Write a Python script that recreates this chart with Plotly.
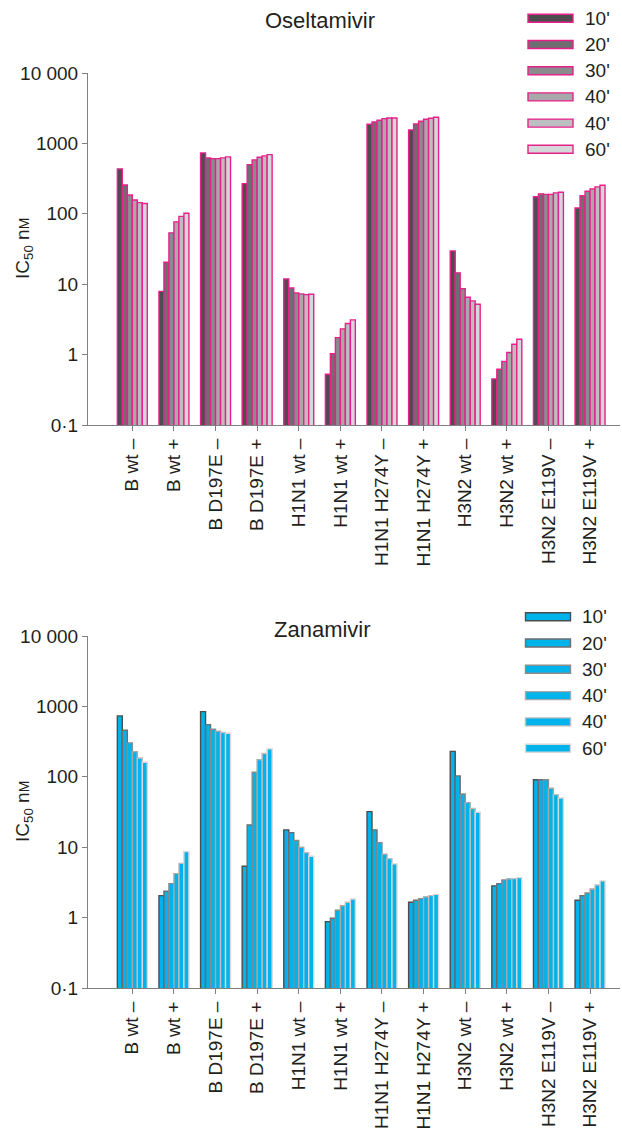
import plotly.graph_objects as go

categories = ["B wt –", "B wt +", "B D197E –", "B D197E +", "H1N1 wt –", "H1N1 wt +",
              "H1N1 H274Y –", "H1N1 H274Y +", "H3N2 wt –", "H3N2 wt +", "H3N2 E119V –", "H3N2 E119V +"]
times = ["10'", "20'", "30'", "40'", "40'", "60'"]

# Oseltamivir IC50 (nM), one list per time point, across categories
osel_10 = [434, 7.9, 733, 268, 11.9, 0.525, 1867, 1555, 29.7, 0.452, 175, 121]
osel_20 = [257, 20.5, 622, 500, 8.85, 1.03, 2020, 1893, 14.5, 0.618, 192, 181]
osel_30 = [185, 53.6, 608, 583, 7.52, 1.74, 2130, 2060, 8.66, 0.80, 189, 209]
osel_40a = [157, 76.8, 608, 635, 7.28, 2.32, 2250, 2200, 6.52, 1.07, 189, 226]
osel_40b = [144, 92, 622, 664, 7.11, 2.76, 2300, 2273, 5.79, 1.40, 198, 241]
osel_60 = [140, 102, 643, 693, 7.2, 3.11, 2300, 2350, 5.19, 1.65, 202, 254]

# Zanamivir IC50 (nM)
zan_10 = [733, 2.05, 844, 5.36, 17.6, 0.877, 32, 1.65, 230, 2.82, 91, 1.76]
zan_20 = [458, 2.37, 551, 20.7, 16.1, 0.977, 17.6, 1.76, 103, 3.04, 91, 2.05]
zan_30 = [303, 3.04, 473, 116, 12.5, 1.27, 11.6, 1.86, 57, 3.43, 91, 2.24]
zan_40a = [228, 4.22, 443, 175, 9.98, 1.47, 7.93, 1.97, 43, 3.55, 68.7, 2.55]
zan_40b = [185, 5.9, 425, 214, 8.38, 1.65, 6.89, 2.05, 35.4, 3.58, 55.9, 2.91]
zan_60 = [161, 8.66, 415, 249, 7.43, 1.84, 5.79, 2.14, 31.3, 3.70, 50, 3.32]

tick_vals = [0.1, 1, 10, 100, 1000, 10000]
tick_text = ["0·1", "1", "10", "100", "1000", "10 000"]

osel_series = [osel_10, osel_20, osel_30, osel_40a, osel_40b, osel_60]
zan_series = [zan_10, zan_20, zan_30, zan_40a, zan_40b, zan_60]

grays = ["#4d4d4f", "#6d6e70", "#8a8b8d", "#a7a9ab", "#bcbec0", "#d6d7d8"]
magenta = "#e8208c"
cyan = "#00b4eb"
txt = "#231f20"
axis_col = "#808080"
FONT = "Liberation Sans, Arial, sans-serif"

W, H = 622, 1133

fig = go.Figure()
for i, t in enumerate(times):
    fig.add_trace(go.Bar(x=categories, y=osel_series[i], name=t, xaxis="x", yaxis="y",
                         marker=dict(color=grays[i], line=dict(color=magenta, width=1.4)),
                         showlegend=False))
for i, t in enumerate(times):
    fig.add_trace(go.Bar(x=categories, y=zan_series[i], name=t, xaxis="x2", yaxis="y2",
                         marker=dict(color=cyan, line=dict(color=grays[i], width=1.4)),
                         showlegend=False))

def py(p):
    return 1 - p / H

def px(p):
    return p / W

xdom = [px(88), px(620)]
xcommon = dict(type="category", range=[-1.065, 11.72], showline=True, linecolor=axis_col,
               linewidth=1, ticks="outside", ticklen=5, tickcolor=axis_col, tickangle=-90,
               tickfont=dict(size=19, color=txt, family=FONT), showgrid=False,
               zeroline=False, domain=xdom, automargin=False)
ycommon = dict(type="log", range=[-1, 4], tickvals=tick_vals, ticktext=tick_text,
               showline=True, linecolor=axis_col, linewidth=1, ticks="outside", ticklen=5,
               tickcolor=axis_col, tickfont=dict(size=19, color=txt, family=FONT),
               showgrid=False, zeroline=False, automargin=False)

fig.update_layout(
    width=W, height=H,
    margin=dict(l=0, r=0, t=0, b=0),
    paper_bgcolor="white", plot_bgcolor="white",
    barmode="group", bargap=0.28, bargroupgap=0,
    font=dict(family=FONT, color=txt),
    xaxis=dict(**xcommon, anchor="y"),
    yaxis=dict(**ycommon, domain=[py(425), py(73)], anchor="x"),
    xaxis2=dict(**xcommon, anchor="y2"),
    yaxis2=dict(**ycommon, domain=[py(988), py(636)], anchor="x2"),
)

ann = []
shapes = []
ann.append(dict(text="Oseltamivir", x=px(320), y=py(20), xref="paper", yref="paper",
                showarrow=False, font=dict(size=22, color=txt, family=FONT),
                xanchor="center", yanchor="middle"))
ann.append(dict(text="Zanamivir", x=px(322), y=py(629), xref="paper", yref="paper",
                showarrow=False, font=dict(size=22, color=txt, family=FONT),
                xanchor="center", yanchor="middle"))
ytitle = "IC<sub>50</sub> n<span style='font-size:14px'>M</span>"
for yc in (249, 812):
    ann.append(dict(text=ytitle, x=px(24), y=py(yc), xref="paper", yref="paper",
                    showarrow=False, textangle=-90, font=dict(size=19, color=txt, family=FONT),
                    xanchor="center", yanchor="middle"))

# legends
top_y = [18.3, 44.5, 70.7, 96.9, 123.1, 149.3]
bot_y = [616.7, 643.0, 669.3, 695.6, 721.9, 748.2]
for i, t in enumerate(times):
    yc = top_y[i]
    shapes.append(dict(type="rect", xref="paper", yref="paper",
                       x0=px(528), x1=px(573), y0=py(yc + 4), y1=py(yc - 4),
                       fillcolor=grays[i], line=dict(color=magenta, width=1.4)))
    ann.append(dict(text=t, x=px(583), y=py(yc), xref="paper", yref="paper",
                    showarrow=False, xanchor="left", yanchor="middle",
                    font=dict(size=19, color=txt, family=FONT)))
    yc = bot_y[i]
    shapes.append(dict(type="rect", xref="paper", yref="paper",
                       x0=px(525.5), x1=px(570.5), y0=py(yc + 4), y1=py(yc - 4),
                       fillcolor=cyan, line=dict(color=grays[i], width=1.4)))
    ann.append(dict(text=t, x=px(580), y=py(yc), xref="paper", yref="paper",
                    showarrow=False, xanchor="left", yanchor="middle",
                    font=dict(size=19, color=txt, family=FONT)))

fig.update_layout(annotations=ann, shapes=shapes)
fig.write_html("out.html", config={"displayModeBar": False},
               post_script="document.body.style.margin='0';document.body.style.overflow='hidden';")
